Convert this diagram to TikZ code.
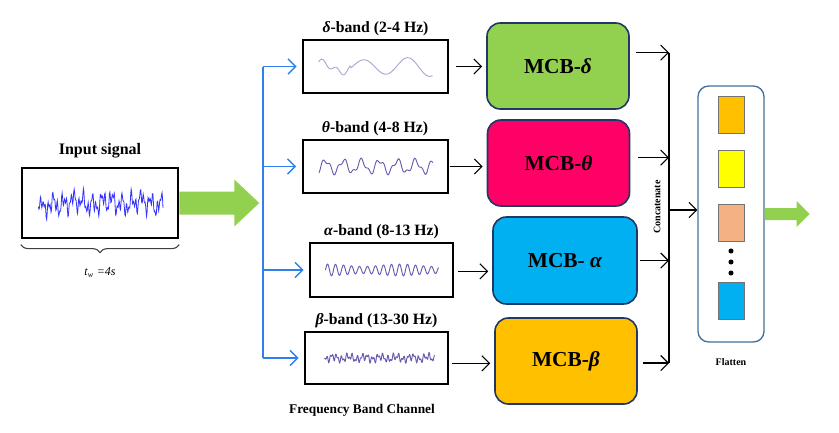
\documentclass[tikz,border=0pt]{standalone}
\usepackage{fontspec}
\setmainfont{Liberation Serif}
\usetikzlibrary{arrows.meta,positioning,calc,decorations.pathreplacing}
\definecolor{leaf}{HTML}{92D050}
\definecolor{rose}{HTML}{FF0066}
\definecolor{sky}{HTML}{00B0F0}
\definecolor{gold}{HTML}{FFC000}
\definecolor{lemon}{HTML}{FFFF00}
\definecolor{peach}{HTML}{F4B183}
\definecolor{navy}{HTML}{1F3864}
\definecolor{steel}{HTML}{41719C}
\definecolor{branch}{HTML}{2F80ED}
\definecolor{wave}{HTML}{6A5AAE}
\definecolor{rawsig}{HTML}{3333FF}

\begin{document}
\begin{tikzpicture}[
  x=0.75pt, y=-0.75pt,
  sig/.style={draw=black, line width=1.5pt, minimum width=108.75pt, minimum height=39.75pt, inner sep=0pt},
  mcb/.style={draw=navy, line width=1.2pt, rounded corners=10pt, minimum width=106.5pt, minimum height=64.5pt, font=\fontsize{16}{18}\selectfont\bfseries},
  lbl/.style={font=\fontsize{11.8}{13}\selectfont\bfseries, inner sep=1pt},
  cell/.style={draw=black!55, minimum width=19.5pt, minimum height=27.75pt, inner sep=0pt},
  arr/.style={-{Straight Barb[length=2mm]}, black, line width=0.8pt},
  barr/.style={-{Straight Barb[length=2mm]}, branch, line width=1.1pt},
  wv/.style={wave, line width=0.7pt, line join=round}
]
\useasboundingbox (0,0) rectangle (839,432);

% input signal
\node[sig, line width=1.9pt, minimum width=117pt, minimum height=52.5pt] (inbox) at (100,203) {};
\node[lbl, above=5pt of inbox, font=\fontsize{12}{14}\selectfont\bfseries] (intitle) {Input signal};
\draw[rawsig, line width=0.6pt, shift={(inbox.center)}] plot[domain=-62:63, samples=260]
  (\x, {-6*sin(37*\x)-5*sin(83*\x+20)-4*sin(151*\x+60)-2.5*sin(11*\x)+(\x<-52)*(\x>-58)*14*sin(30*(\x+58))});
\draw[black!75, line width=0.8pt, decorate, decoration={brace, mirror, amplitude=6pt}]
  ([yshift=-4pt]inbox.south west) -- ([yshift=-4pt]inbox.south east);
\node[font=\fontsize{9}{10}\selectfont\itshape, below=18pt of inbox] (tw) {t\textsubscript{w} =4s};

% green arrow into the bands
\fill[leaf] (inbox.east) ++(0,-11.5) -- ++(55,0) -- ++(0,-12) -- ++(25,23.5) -- ++(-25,23.5)
  -- ++(0,-12) -- ++(-55,0) -- cycle;

% band boxes
\node[sig] (dbox) at (375.5,66.5) {};
\node[sig] (tbox) at (375,166.5) {};
\node[sig, minimum width=107.25pt, minimum height=40.5pt] (abox) at (381.5,270) {};
\node[sig, minimum width=107.25pt, minimum height=39pt] (bbox) at (376.5,358) {};
\node[lbl, above=1.5pt of dbox] (dlbl) {\textit{δ}-band (2-4 Hz)};
\node[lbl, above=1.5pt of tbox] (tlbl) {\textit{θ}-band (4-8 Hz)};
\node[lbl, above=1.5pt of abox] (albl) {\textit{α}-band (8-13 Hz)};
\node[lbl, above=1.5pt of bbox] (blbl) {\textit{β}-band (13-30 Hz)};
\node[lbl, font=\fontsize{10}{12}\selectfont\bfseries] (chan) at (362,410) {Frequency Band Channel};

% waves
\draw[wv, wave!55, shift={(dbox.center)}] plot[domain=-57:57, samples=120]
  (\x, {-10*sin(8.2*\x+188)*(0.45+0.55*(\x+57)/114)-(\x<-25)*3*sin(25*(\x+57))});
\draw[wv, shift={(tbox.center)}] plot[domain=-56:58, samples=160]
  (\x, {-6*sin(20*\x)-2.5*sin(47*\x+30)});
\draw[wv, shift={(abox.center)}] plot[domain=-56:57, samples=220]
  (\x, {-6*sin(45*\x)*(0.8+0.2*sin(5*\x))});
\draw[wv, shift={(bbox.center)}] plot[domain=-52:58, samples=260]
  (\x, {-2.5*sin(70*\x)-2*sin(131*\x+40)-1.5*sin(23*\x)});

% blue branches
\coordinate (bus) at (263,205);
\draw[branch, line width=1.1pt] (bus |- dbox.west) -- (bus |- bbox.west);
\foreach \b in {dbox,tbox,abox,bbox}
  \draw[barr, shorten >=4pt] (bus |- \b.west) -- (\b.west);

% MCB blocks
\node[mcb, fill=leaf] (dmcb) at (558,66) {MCB-\textit{δ}};
\node[mcb, fill=rose] (tmcb) at (558.5,163) {MCB-\textit{θ}};
\node[mcb, fill=sky, minimum width=108pt, minimum height=65.25pt] (amcb) at (565,260.5) {MCB- \textit{α}};
\node[mcb, fill=gold] (bmcb) at (566,361) {MCB-\textit{β}};

\draw[arr, shorten <=5pt, shorten >=3pt] (dbox.east) -- (dbox.east -| dmcb.west);
\draw[arr, shorten <=1pt, shorten >=3pt] (tbox.east) -- (tbox.east -| tmcb.west);
\draw[arr, shorten <=3pt, shorten >=3pt] ([yshift=-1pt]abox.east) -- ([yshift=-1pt]abox.east -| amcb.west);
\draw[arr, shorten <=2pt, shorten >=3pt] ([yshift=-4pt]bbox.east) -- ([yshift=-4pt]bbox.east -| bmcb.west);

% concatenate
\coordinate (ctop) at (669,53);
\coordinate (cbot) at (669,363);
\coordinate (cmid) at (669,210);
\draw[black, line width=0.8pt] (ctop) -- (cbot);
\draw[arr, shorten <=5pt] ([yshift=10pt]dmcb.east) -- ([yshift=10pt]dmcb.east -| ctop);
\draw[arr, shorten <=6pt] ([yshift=4pt]tmcb.east) -- ([yshift=4pt]tmcb.east -| ctop);
\draw[arr, shorten <=2pt] (amcb.east) -- (amcb.east -| ctop);
\draw[arr, shorten <=4pt] ([yshift=-1.5pt]bmcb.east) -- ([yshift=-1.5pt]bmcb.east -| ctop);
\node[rotate=90, font=\fontsize{7.5}{9}\selectfont\bfseries, inner sep=1pt] (cat) at (657,207) {Concatenate};

% flatten
\node[draw=steel, line width=1pt, rounded corners=8pt, fill=white, minimum width=49.5pt, minimum height=192pt] (flat) at (731,214) {};
\draw[arr] (cmid) -- (cmid -| flat.west);
\node[cell, fill=gold] (c1) at (731,114.5) {};
\node[cell, fill=lemon] (c2) at (731,169) {};
\node[cell, fill=peach] (c3) at (731,222.5) {};
\node[cell, fill=sky] (c4) at (731,300.5) {};
\foreach \y in {251,262,273}
  \fill[black] (731,\y) circle (1.9pt);
\node[font=\fontsize{7.5}{9}\selectfont\bfseries] (flbl) at (731,362) {Flatten};

% green arrow out
\fill[leaf] (flat.east) ++(0,-6) -- ++(32,0) -- ++(0,-7) -- ++(13,13) -- ++(-13,13)
  -- ++(0,-7) -- ++(-32,0) -- cycle;
\end{tikzpicture}
\end{document}
